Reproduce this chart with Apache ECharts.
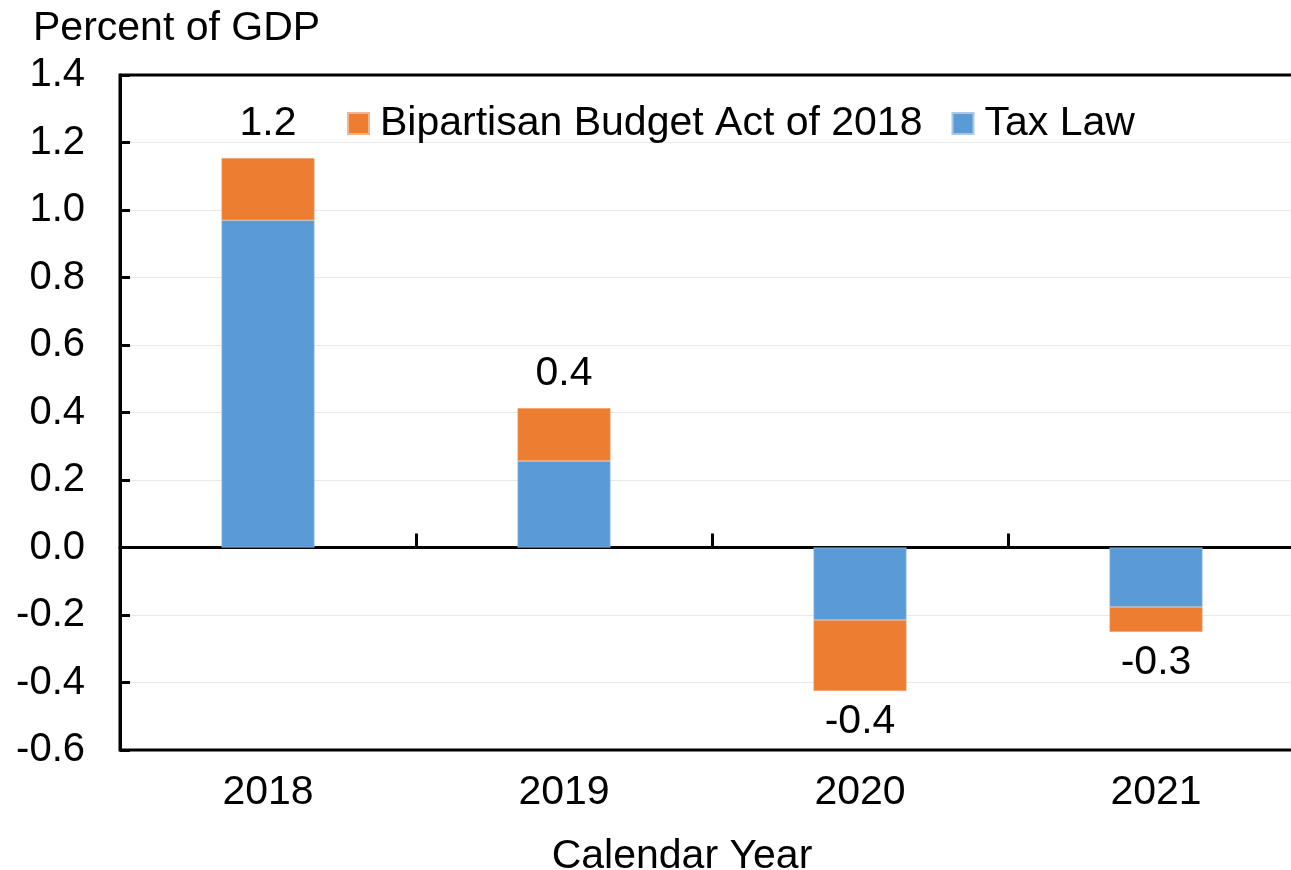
<!DOCTYPE html>
<html>
<head>
<meta charset="utf-8">
<script src="https://cdn.jsdelivr.net/npm/echarts@6/dist/echarts.min.js"></script>
<style>
  html, body { margin: 0; padding: 0; background: #fff; }
  #chart { width: 1291px; height: 870px; }
</style>
</head>
<body>
<div id="chart"></div>
<script>
// values (percent of GDP)
const years = ["2018", "2019", "2020", "2021"];
const taxLaw = [0.97, 0.256, -0.215, -0.176];
const budgetAct = [0.184, 0.157, -0.21, -0.074];
const totalLabels = ["1.2", "0.4", "-0.4", "-0.3"];

const FONT = "Liberation Sans, Arial, sans-serif";
const FS = 41;
const ORANGE = "#ED7D31";
const BLUE = "#5B9BD5";
const LW = 3;

const chart = echarts.init(document.getElementById("chart"));

const option = {
  animation: false,
  textStyle: { fontFamily: FONT },
  title: {
    text: "Percent of GDP",
    left: 33,
    top: 8,
    padding: 0,
    textStyle: { fontFamily: FONT, fontSize: FS, fontWeight: "normal", color: "#000" },
  },
  legend: {
    left: 347,
    top: 103,
    padding: 0,
    icon: "rect",
    itemWidth: 21,
    itemHeight: 21,
    itemGap: 29,
    data: ["Bipartisan Budget Act of 2018", "Tax Law"],
    textStyle: { fontFamily: FONT, fontSize: FS, color: "#000", padding: [0, 0, 0, 6] },
  },
  grid: {
    left: 120,
    top: 75,
    width: 1184,
    height: 675,
    outerBoundsMode: "none",
    containLabel: false,
    show: true,
    borderColor: "#000",
    borderWidth: LW,
    backgroundColor: "transparent",
  },
  xAxis: [
    {
      // bottom labels + axis title
      type: "category",
      data: years,
      position: "bottom",
      axisLine: { show: false, onZero: false },
      axisTick: { show: false },
      axisLabel: { fontSize: FS, color: "#000", margin: 22, fontFamily: FONT },
      name: "Calendar Year",
      nameLocation: "middle",
      nameGap: 86,
      nameTextStyle: { fontSize: FS, color: "#000", fontFamily: FONT, padding: [0, 60, 0, 0] },
    },
    {
      // zero line with ticks between categories
      type: "category",
      data: years,
      position: "bottom",
      axisLine: { show: true, onZero: true, lineStyle: { color: "#000", width: LW } },
      axisTick: { show: true, inside: true, length: 14, lineStyle: { color: "#000", width: LW } },
      axisLabel: { show: false },
    },
  ],
  yAxis: {
    type: "value",
    min: -0.6,
    max: 1.4,
    interval: 0.2,
    axisLine: { show: true, lineStyle: { color: "#000", width: LW } },
    axisTick: { show: true, inside: true, length: 10, lineStyle: { color: "#000", width: LW } },
    axisLabel: {
      fontSize: 40,
      color: "#000",
      margin: 35,
      fontFamily: FONT,
      formatter: (v) => v.toFixed(1),
    },
    splitLine: {
      show: true,
      showMinLine: false,
      showMaxLine: false,
      lineStyle: { color: "#e9e9e9", width: 1 },
    },
  },
  series: [
    {
      name: "Tax Law",
      type: "bar",
      stack: "total",
      xAxisIndex: 0,
      barWidth: 93,
      itemStyle: { color: BLUE, borderColor: "#a9c9ea", borderWidth: 0.5 },
      data: taxLaw,
    },
    {
      name: "Bipartisan Budget Act of 2018",
      type: "bar",
      stack: "total",
      xAxisIndex: 0,
      barWidth: 93,
      itemStyle: { color: ORANGE, borderColor: "#f5b58a", borderWidth: 0.5 },
      data: budgetAct.map((v, i) => {
        const up = taxLaw[i] + v >= 0;
        return {
          value: v,
          label: {
            show: true,
            position: up ? "top" : "bottom",
            distance: up ? 14 : 10,
            formatter: () => totalLabels[i],
            fontSize: FS,
            color: "#000",
            fontFamily: FONT,
          },
        };
      }),
    },
  ],
};

chart.setOption(option);
</script>
</body>
</html>
